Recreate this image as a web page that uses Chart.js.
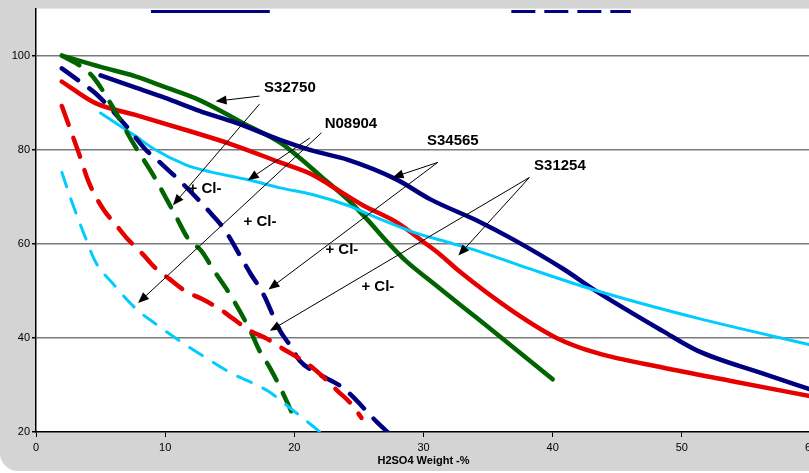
<!DOCTYPE html>
<html>
<head>
<meta charset="utf-8">
<script src="https://cdn.jsdelivr.net/npm/chart.js@4.4.1/dist/chart.umd.min.js"></script>
<style>
  html, body { margin: 0; padding: 0; background: #fff; overflow: hidden; }
  body { width: 809px; height: 473px; position: relative; }
  #wrap { position: absolute; left: 0; top: -20px; width: 870px; height: 491px; background: #d4d4d4; border-radius: 18px; overflow: hidden; }
  #chart { position: absolute; left: 0; top: 20px; }
</style>
</head>
<body>
<div id="wrap"><canvas id="chart" width="840" height="473"></canvas></div>
<script>
// Axis ticks
const xTicks = [0, 10, 20, 30, 40, 50, 60];
const yTicks = [20, 40, 60, 80, 100];

// Solid curves
const s34565X = [5, 7.5, 10, 12.7, 15.5, 18.9, 21.4, 24.1, 27.9, 30.5, 34.4, 36.9, 40.8, 43.4, 48.5, 51.2, 56.3, 60];
const s34565Y = [95.8, 93.4, 91, 88.2, 85.7, 82.1, 79.8, 77.9, 73.7, 69.5, 64.6, 61, 54.7, 49.9, 41.5, 37.3, 32.4, 29];

const s32750X = [2, 5, 7.7, 10, 12.7, 16, 18.9, 20.4, 22, 24.1, 25.6, 27.2, 28.7, 30.5, 33, 35.7, 40];
const s32750Y = [100, 97.6, 95.6, 93.3, 90.5, 85.7, 81.5, 78.3, 74.5, 69.5, 65.3, 60.4, 56.2, 52.2, 46.7, 40.8, 31.2];

const s31254X = [2, 4.6, 7.7, 11.6, 15.3, 18.9, 21.4, 22.8, 25.3, 27.9, 30, 31.3, 32.8, 36.9, 40.3, 43.4, 48.5, 53.7, 60];
const s31254Y = [94.5, 89.9, 87.4, 84.2, 81, 77.3, 74.7, 72.4, 68.2, 64.6, 60.4, 57.7, 54.1, 45.7, 40, 36.8, 33.7, 30.9, 27.6];

const n08904X = [5, 7.7, 9.1, 11.6, 13.5, 16.6, 18.9, 21.4, 24.1, 26.6, 29.2, 31.8, 34.4, 38, 43.1, 51.2, 60];
const n08904Y = [87.8, 82.9, 80.2, 76.8, 75.3, 73.5, 71.9, 70.5, 68.2, 65.3, 62.5, 60.4, 58.3, 54.9, 50.3, 44.2, 38.5];

// Dashed curves (+ Cl-)
const s34565ClX = [2, 3.6, 4.6, 7, 8.5, 9.6, 11.5, 13.6, 14.6, 16, 16.6, 17.6, 18.9, 19.7, 20.4, 21.7, 23.8, 26.4, 27.2];
const s34565ClY = [97.3, 94.1, 92, 85, 80, 77.3, 72.4, 66.3, 63, 56.5, 53.7, 49.3, 41.5, 38.3, 35.2, 32.6, 29.3, 22.1, 20];

const s32750ClX = [2, 3.7, 4.5, 6, 7.5, 9.1, 10.8, 11.8, 12.8, 13.8, 15, 16.6, 17.3, 18.1, 18.9, 20];
const s32750ClY = [100, 97.3, 95.2, 88.8, 81.5, 74.5, 66, 61, 58.5, 54.2, 49.3, 41.5, 37.3, 33.7, 29.5, 23];

const s31254ClX = [2, 2.7, 3.3, 4.1, 5.2, 6.2, 7, 8.3, 9.3, 10.3, 11.6, 12.9, 14.3, 15.2, 16.6, 17.9, 19.1, 20.4, 21.4, 22.5, 23.4, 24.4, 25.2];
const s31254ClY = [89.3, 84, 79.4, 73, 67.4, 64, 61.3, 57.7, 54.7, 52.6, 49.9, 48.2, 46, 44.2, 41.5, 39.8, 37.7, 35.6, 33.7, 31, 28.6, 26, 23];

const n08904ClX = [2, 2.7, 3.8, 4.6, 6, 7.7, 9.3, 11.1, 12.9, 15.2, 17.9, 19.9, 22];
const n08904ClY = [75.2, 69.5, 61.5, 56.2, 51.4, 46.3, 42.9, 39.4, 36.2, 32.4, 28.8, 24.6, 20];

// Annotation labels and arrows (data coordinates)
const labelText = ["S32750", "N08904", "S34565", "S31254", "+ Cl-", "+ Cl-", "+ Cl-", "+ Cl-"];
const labelX = [19.66, 24.38, 32.27, 40.56, 13.08, 17.34, 23.68, 26.47];
const labelY = [93.05, 85.5, 81.9, 76.6, 71.6, 64.6, 58.7, 50.95];

const arrowFromX = [17.3, 17.3, 21.2, 22.1, 31.1, 31.1, 38.2, 38.2];
const arrowFromY = [91.4, 89.7, 82.5, 83.6, 77.3, 77.3, 74.1, 74.1];
const arrowToX = [13.9, 10.6, 16.4, 7.9, 27.6, 18, 32.7, 18.1];
const arrowToY = [90.3, 68.2, 73.5, 47.4, 74.1, 50.3, 57.5, 41.5];

const navy = "#000080";
const green = "#006400";
const red = "#e60000";
const cyan = "#00ccff";

function pts(xs, ys) {
  return xs.map((x, i) => ({ x: x, y: ys[i] }));
}

function solid(label, xs, ys, color, width) {
  return {
    label: label,
    data: pts(xs, ys),
    borderColor: color,
    borderWidth: width,
    pointRadius: 0,
    cubicInterpolationMode: "monotone",
    borderCapStyle: "round",
    fill: false,
  };
}

function dashed(label, xs, ys, color, width, dash) {
  const d = solid(label, xs, ys, color, width);
  d.borderDash = dash;
  return d;
}

// white plot area
const plotBg = {
  id: "plotBg",
  beforeDraw(chart) {
    const { ctx, chartArea: a } = chart;
    ctx.save();
    ctx.fillStyle = "#fff";
    ctx.fillRect(a.left, a.top, a.right - a.left, a.bottom - a.top);
    ctx.restore();
  },
};

function drawArrow(ctx, x1, y1, x2, y2) {
  const a = Math.atan2(y2 - y1, x2 - x1);
  const c = Math.cos(a), s = Math.sin(a);
  ctx.beginPath();
  ctx.moveTo(x1, y1);
  ctx.lineTo(x2 - 8 * c, y2 - 8 * s);
  ctx.stroke();
  ctx.beginPath();
  ctx.moveTo(x2, y2);
  ctx.lineTo(x2 - 11 * c + 4.5 * s, y2 - 11 * s - 4.5 * c);
  ctx.lineTo(x2 - 11 * c - 4.5 * s, y2 - 11 * s + 4.5 * c);
  ctx.closePath();
  ctx.fill();
}

const notes = {
  id: "notes",
  afterDatasetsDraw(chart) {
    const { ctx, scales } = chart;
    const xs = scales.x, ys = scales.y;
    ctx.save();
    ctx.strokeStyle = "#000";
    ctx.fillStyle = "#000";
    ctx.lineWidth = 1;
    arrowFromX.forEach((_, i) => {
      drawArrow(
        ctx,
        xs.getPixelForValue(arrowFromX[i]),
        ys.getPixelForValue(arrowFromY[i]),
        xs.getPixelForValue(arrowToX[i]),
        ys.getPixelForValue(arrowToY[i])
      );
    });
    ctx.font = "bold 15px 'Liberation Sans', Arial, sans-serif";
    ctx.textAlign = "center";
    ctx.textBaseline = "middle";
    labelText.forEach((t, i) => {
      ctx.fillText(t, xs.getPixelForValue(labelX[i]), ys.getPixelForValue(labelY[i]));
    });

    // legend samples peeking in at the top
    const top = chart.chartArea.top + 3;
    ctx.strokeStyle = navy;
    ctx.lineWidth = 3;
    ctx.beginPath();
    ctx.moveTo(xs.getPixelForValue(8.9), top);
    ctx.lineTo(xs.getPixelForValue(18.1), top);
    ctx.stroke();
    ctx.setLineDash([24, 9]);
    ctx.beginPath();
    ctx.moveTo(xs.getPixelForValue(36.8), top);
    ctx.lineTo(xs.getPixelForValue(46.05), top);
    ctx.stroke();
    ctx.restore();
  },
};

new Chart(document.getElementById("chart"), {
  type: "line",
  data: {
    datasets: [
      dashed("N08904 + Cl-", n08904ClX, n08904ClY, cyan, 3, [15, 13]),
      dashed("S31254 + Cl-", s31254ClX, s31254ClY, red, 4.5, [20, 14]),
      dashed("S32750 + Cl-", s32750ClX, s32750ClY, green, 4.5, [20, 14]),
      dashed("S34565 + Cl-", s34565ClX, s34565ClY, navy, 4.5, [20, 14]),
      solid("N08904", n08904X, n08904Y, cyan, 3),
      solid("S31254", s31254X, s31254Y, red, 4.5),
      solid("S34565", s34565X, s34565Y, navy, 4.5),
      solid("S32750", s32750X, s32750Y, green, 4.5),
    ],
  },
  options: {
    responsive: false,
    animation: false,
    devicePixelRatio: 1,
    layout: { padding: { top: 5, right: 29, left: 0, bottom: 0 } },
    plugins: {
      legend: { display: false },
      tooltip: { enabled: false },
    },
    scales: {
      x: {
        type: "linear",
        min: 0,
        max: 60,
        afterBuildTicks: (s) => {
          s.ticks = xTicks.map((v) => ({ value: v }));
        },
        afterFit: (s) => {
          s.height = 41;
        },
        ticks: {
          color: "#000",
          font: { family: "'Liberation Sans', Arial", size: 11 },
          padding: 4,
          maxRotation: 0,
        },
        grid: { drawOnChartArea: false, tickLength: 5, color: "#000" },
        border: { color: "#000", width: 1.5 },
        title: {
          display: true,
          text: "H2SO4 Weight -%",
          color: "#000",
          font: { family: "'Liberation Sans', Arial", size: 11, weight: "bold" },
          padding: { top: 0, bottom: 5 },
        },
      },
      y: {
        min: 20,
        max: 110,
        afterBuildTicks: (s) => {
          s.ticks = yTicks.map((v) => ({ value: v }));
        },
        afterFit: (s) => {
          s.width = 36;
        },
        ticks: {
          color: "#000",
          font: { family: "'Liberation Sans', Arial", size: 11 },
          padding: 2,
        },
        grid: {
          color: (c) => (c.tick && c.tick.value === 20 ? "rgba(0,0,0,0)" : "#7a7a7a"),
          lineWidth: 1.5,
          tickLength: 4,
          tickColor: "#000",
        },
        border: { color: "#000", width: 1.5 },
      },
    },
  },
  plugins: [plotBg, notes],
});
</script>
</body>
</html>
